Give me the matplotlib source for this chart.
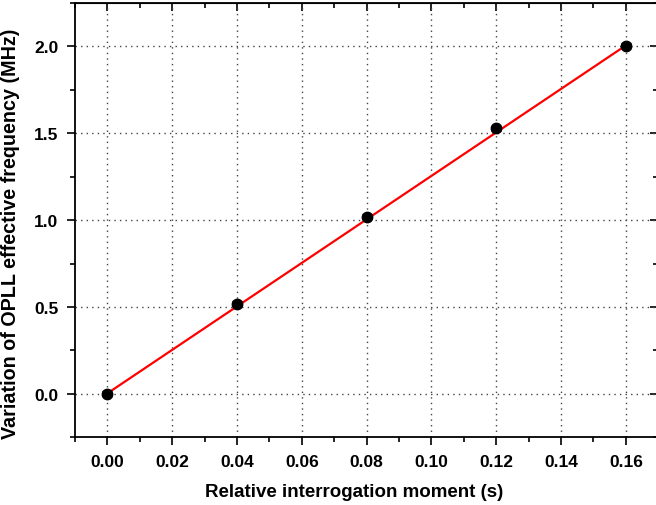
import matplotlib.pyplot as plt
import numpy as np
from matplotlib.ticker import MultipleLocator

# Datos
t = [0.00, 0.04, 0.08, 0.12, 0.16]            # momento relativo (s)
df = [0.000, 0.520, 1.020, 1.528, 2.005]      # variacion de frecuencia (MHz)
err = [0.015, 0.015, 0.015, 0.015, 0.015]
fit_t = [0.00, 0.16]
fit_df = [0.003, 2.006]

plt.rcParams['font.family'] = ['Liberation Sans', 'DejaVu Sans']
plt.rcParams['font.weight'] = 'bold'

fig = plt.figure(figsize=(6.56, 5.06), dpi=100)
ax = fig.add_axes([75/656, 1-438.3/506, 583.3/656, 434.3/506])

ax.plot(fit_t, fit_df, color='red', lw=1.6, zorder=3)
ax.errorbar(t, df, yerr=err, fmt='o', color='black', ms=7.5, capsize=3.5,
            elinewidth=1, capthick=1, zorder=4)

ax.set_xlim(-0.01, 0.17)
ax.set_ylim(-0.25, 2.25)
ax.xaxis.set_major_locator(MultipleLocator(0.02))
ax.xaxis.set_minor_locator(MultipleLocator(0.01))
ax.yaxis.set_major_locator(MultipleLocator(0.5))
ax.yaxis.set_minor_locator(MultipleLocator(0.25))
ax.set_xticks(np.arange(0, 0.161, 0.02))
ax.set_xticklabels(['%.2f' % v for v in np.arange(0, 0.161, 0.02)])
ax.set_yticks(np.arange(0, 2.01, 0.5))
ax.set_yticklabels(['%.1f' % v for v in np.arange(0, 2.01, 0.5)])

ax.grid(True, which='major', linestyle=(0, (1, 3)), color='#444444', lw=1)
ax.tick_params(which='both', direction='out', top=False, right=False, width=1.2,
               labelsize=12.5)
ax.tick_params(which='major', length=6, pad=6)
ax.tick_params(which='minor', length=3.5)
for s in ax.spines.values():
    s.set_linewidth(1.3)

# ticks espejo hacia adentro arriba y a la derecha
ax2 = ax.secondary_xaxis('top')
ax2.xaxis.set_major_locator(MultipleLocator(0.02))
ax2.xaxis.set_minor_locator(MultipleLocator(0.01))
ax2.tick_params(which='both', direction='in', labeltop=False, width=1.2)
ax2.tick_params(which='major', length=6)
ax2.tick_params(which='minor', length=3.5)
ay2 = ax.secondary_yaxis('right')
ay2.yaxis.set_major_locator(MultipleLocator(0.5))
ay2.yaxis.set_minor_locator(MultipleLocator(0.25))
ay2.tick_params(which='both', direction='in', labelright=False, width=1.2)
ay2.tick_params(which='major', length=6)
ay2.tick_params(which='minor', length=3.5)

ax.set_xlabel('Relative interrogation moment (s)', fontsize=13.5, fontweight='bold', labelpad=10)
ax.set_ylabel('Variation of OPLL effective frequency (MHz)', fontsize=14.2, fontweight='bold', labelpad=8)
ax.xaxis.set_label_coords(0.478, -0.105)
ax.yaxis.set_label_coords(-0.094, 0.470)

fig.savefig('out.png', dpi=100)
